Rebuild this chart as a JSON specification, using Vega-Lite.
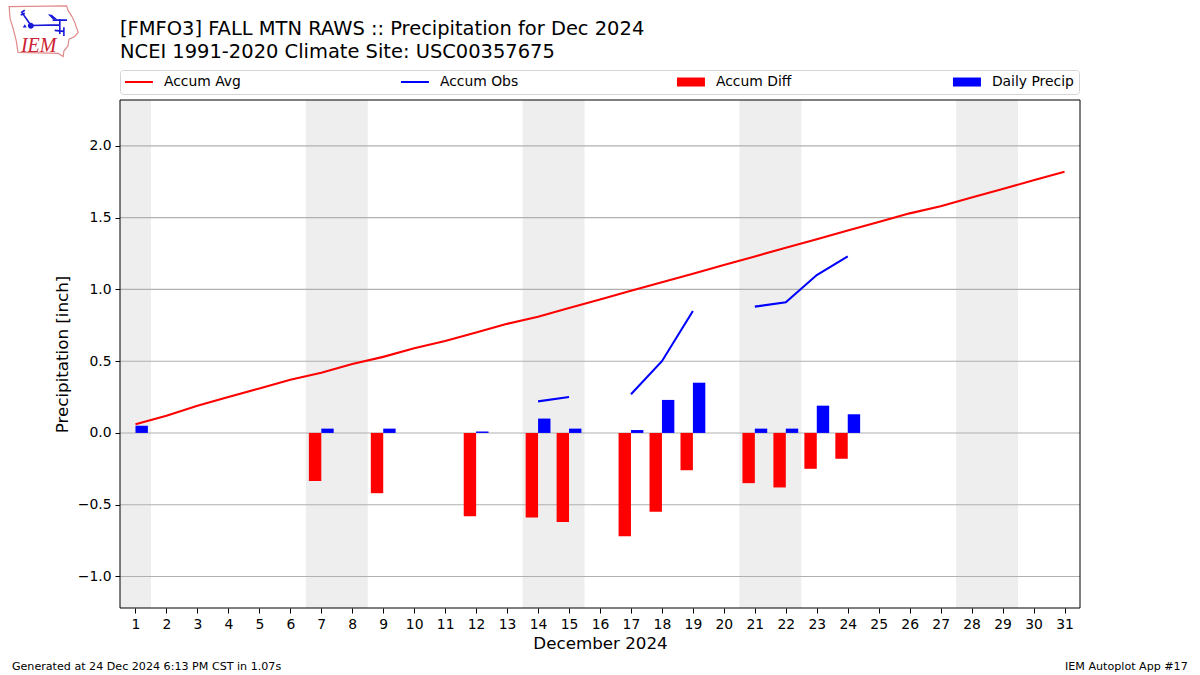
{"$schema":"https://vega.github.io/schema/vega-lite/v6.json","width":960,"height":508,"autosize":{"type":"none"},"padding":{"left":120,"top":100,"right":120,"bottom":67},"background":"white",
"title":{"text":["[FMFO3] FALL MTN RAWS :: Precipitation for Dec 2024","NCEI 1991-2020 Climate Site: USC00357675"],"anchor":"start","frame":"group","offset":0,"dy":59,"fontSize":19.47,"fontWeight":"normal","lineHeight":22.5,"color":"black","font":"DejaVu Sans"},
"config":{"font":"DejaVu Sans","view":{"stroke":null},"legend":{"labelFontSize":13.9,"labelFont":"DejaVu Sans","labelColor":"black","strokeColor":"#d4d4d4","cornerRadius":3,"fillColor":"white","padding":5,"columnPadding":154,"rowPadding":0,"labelOffset":18,"symbolOffset":7,"symbolSize":100,"symbolStrokeWidth":0,"symbolOpacity":1,"gridAlign":"all","labelLimit":200}},
"datasets":{
"series":[
{"day":1,"series":"Accum Avg","value":0.06},{"day":2,"series":"Accum Avg","value":0.12},{"day":3,"series":"Accum Avg","value":0.19},{"day":4,"series":"Accum Avg","value":0.25},{"day":5,"series":"Accum Avg","value":0.31},{"day":6,"series":"Accum Avg","value":0.37},{"day":7,"series":"Accum Avg","value":0.42},{"day":8,"series":"Accum Avg","value":0.48},{"day":9,"series":"Accum Avg","value":0.53},{"day":10,"series":"Accum Avg","value":0.59},{"day":11,"series":"Accum Avg","value":0.64},{"day":12,"series":"Accum Avg","value":0.70},{"day":13,"series":"Accum Avg","value":0.76},{"day":14,"series":"Accum Avg","value":0.81},{"day":15,"series":"Accum Avg","value":0.87},{"day":16,"series":"Accum Avg","value":0.93},{"day":17,"series":"Accum Avg","value":0.99},{"day":18,"series":"Accum Avg","value":1.05},{"day":19,"series":"Accum Avg","value":1.11},{"day":20,"series":"Accum Avg","value":1.17},{"day":21,"series":"Accum Avg","value":1.23},{"day":22,"series":"Accum Avg","value":1.29},{"day":23,"series":"Accum Avg","value":1.35},{"day":24,"series":"Accum Avg","value":1.41},{"day":25,"series":"Accum Avg","value":1.47},{"day":26,"series":"Accum Avg","value":1.53},{"day":27,"series":"Accum Avg","value":1.58},{"day":28,"series":"Accum Avg","value":1.64},{"day":29,"series":"Accum Avg","value":1.70},{"day":30,"series":"Accum Avg","value":1.76},{"day":31,"series":"Accum Avg","value":1.82},
{"day":14,"series":"Accum Obs","value":0.22},{"day":15,"series":"Accum Obs","value":0.25},{"day":16,"series":"Accum Obs","value":null},{"day":17,"series":"Accum Obs","value":0.27},{"day":18,"series":"Accum Obs","value":0.50},{"day":19,"series":"Accum Obs","value":0.85},{"day":20,"series":"Accum Obs","value":null},{"day":21,"series":"Accum Obs","value":0.88},{"day":22,"series":"Accum Obs","value":0.91},{"day":23,"series":"Accum Obs","value":1.10},{"day":24,"series":"Accum Obs","value":1.23},
{"day":7,"series":"Accum Diff","value":-0.335},{"day":9,"series":"Accum Diff","value":-0.42},{"day":12,"series":"Accum Diff","value":-0.58},{"day":14,"series":"Accum Diff","value":-0.59},{"day":15,"series":"Accum Diff","value":-0.62},{"day":17,"series":"Accum Diff","value":-0.72},{"day":18,"series":"Accum Diff","value":-0.55},{"day":19,"series":"Accum Diff","value":-0.26},{"day":21,"series":"Accum Diff","value":-0.35},{"day":22,"series":"Accum Diff","value":-0.38},{"day":23,"series":"Accum Diff","value":-0.25},{"day":24,"series":"Accum Diff","value":-0.18},
{"day":1,"series":"Daily Precip","value":0.05},{"day":7,"series":"Daily Precip","value":0.03},{"day":9,"series":"Daily Precip","value":0.03},{"day":12,"series":"Daily Precip","value":0.01},{"day":14,"series":"Daily Precip","value":0.10},{"day":15,"series":"Daily Precip","value":0.03},{"day":17,"series":"Daily Precip","value":0.02},{"day":18,"series":"Daily Precip","value":0.23},{"day":19,"series":"Daily Precip","value":0.35},{"day":21,"series":"Daily Precip","value":0.03},{"day":22,"series":"Daily Precip","value":0.03},{"day":23,"series":"Daily Precip","value":0.19},{"day":24,"series":"Daily Precip","value":0.13}],
"weekends":[{"day":0.5,"dayEnd":1.5,"value":-1.22,"top":2.32},{"day":6.5,"dayEnd":8.5,"value":-1.22,"top":2.32},{"day":13.5,"dayEnd":15.5,"value":-1.22,"top":2.32},{"day":20.5,"dayEnd":22.5,"value":-1.22,"top":2.32},{"day":27.5,"dayEnd":29.5,"value":-1.22,"top":2.32}],
"grid":[{"day":0.5,"dayEnd":31.5,"value":-1},{"day":0.5,"dayEnd":31.5,"value":-0.5},{"day":0.5,"dayEnd":31.5,"value":0},{"day":0.5,"dayEnd":31.5,"value":0.5},{"day":0.5,"dayEnd":31.5,"value":1},{"day":0.5,"dayEnd":31.5,"value":1.5},{"day":0.5,"dayEnd":31.5,"value":2}],
"frame":[{"day":0.5,"dayEnd":31.5,"value":-1.22,"top":2.32}],
"logoAnchor":[{"day":-1.96,"value":2.796}]},
"data":{"name":"series"},
"encoding":{
"x":{"field":"day","type":"quantitative","title":"December 2024","scale":{"domain":[0.5,31.5],"nice":false,"zero":false,"padding":0},"axis":{"values":[1,2,3,4,5,6,7,8,9,10,11,12,13,14,15,16,17,18,19,20,21,22,23,24,25,26,27,28,29,30,31],"format":"d","grid":false,"domain":false,"tickColor":"black","tickSize":5,"labelColor":"black","labelFontSize":13.9,"labelPadding":4,"labelFlush":false,"labelOverlap":false,"titleFontSize":16.7,"titleFontWeight":"normal","titleColor":"black","titlePadding":5}},
"y":{"field":"value","type":"quantitative","title":"Precipitation [inch]","scale":{"domain":[-1.22,2.32],"nice":false,"zero":false,"padding":0},"axis":{"values":[-1,-0.5,0,0.5,1,1.5,2],"format":".1f","grid":false,"domain":false,"tickColor":"black","tickSize":5,"labelColor":"black","labelFontSize":13.9,"labelPadding":4,"titleFontSize":16.7,"titleFontWeight":"normal","titleColor":"black","titlePadding":6}}},
"layer":[
{"data":{"name":"weekends"},"mark":{"type":"rect","color":"#eeeeee"},"encoding":{"x2":{"field":"dayEnd"},"y2":{"field":"top"}}},
{"data":{"name":"grid"},"mark":{"type":"rule","color":"#b0b0b0","strokeWidth":1.1},"encoding":{"x2":{"field":"dayEnd"}}},
{"transform":[{"filter":"datum.series === 'Accum Diff'"}],"mark":{"type":"bar","color":"#ff0000","size":12.4,"xOffset":-6.2,"orient":"vertical"},"encoding":{"y":{"field":"value","type":"quantitative","stack":null}}},
{"transform":[{"filter":"datum.series === 'Daily Precip'"}],"mark":{"type":"bar","color":"#0000ff","size":12.4,"xOffset":6.2,"orient":"vertical"},"encoding":{"y":{"field":"value","type":"quantitative","stack":null}}},
{"transform":[{"filter":"datum.series === 'Accum Avg'"}],"mark":{"type":"line","color":"#ff0000","strokeWidth":2.08}},
{"transform":[{"filter":"datum.series === 'Accum Obs'"}],"mark":{"type":"line","color":"#0000ff","strokeWidth":2.08}},
{"transform":[{"filter":"datum.series === 'legend only'"}],"mark":{"type":"point","filled":true,"opacity":1},"encoding":{
"color":{"field":"series","type":"nominal","scale":{"domain":["Accum Avg","Accum Obs","Accum Diff","Daily Precip"],"range":["#ff0000","#0000ff","#ff0000","#0000ff"]},"legend":{"title":null,"orient":"none","legendX":0,"legendY":-30,"columns":4}},
"shape":{"field":"series","type":"nominal","scale":{"domain":["Accum Avg","Accum Obs","Accum Diff","Daily Precip"],"range":["M-2.8,-0.2H2.8V0.2H-2.8Z","M-2.8,-0.2H2.8V0.2H-2.8Z","M-2.8,-0.9H2.8V0.9H-2.8Z","M-2.8,-0.9H2.8V0.9H-2.8Z"]},"legend":{"title":null,"orient":"none","legendX":0,"legendY":-30,"columns":4}}}},
{"data":{"name":"frame"},"mark":{"type":"rect","fill":null,"fillOpacity":0,"stroke":"black","strokeWidth":1},"encoding":{"x2":{"field":"dayEnd"},"y2":{"field":"top"}}},
{"data":{"name":"logoAnchor"},"mark":{"type":"point","shape":"M-1.02,-.74L.67,-.76L.72,-.61L.82,-.46L.91,-.27L1.01,.02L.91,.14L.74,.22L.71,.42L.59,.57L.57,.73L.42,.64L-.76,.61L-.81,.27L-.91,-.12L-.99,-.37Z","size":4624,"filled":false,"stroke":"#e08a8a","strokeWidth":1.2,"opacity":1,"clip":false}},
{"data":{"name":"logoAnchor"},"mark":{"type":"point","shape":"M-.38,-.18L.47,-.2M.47,-.37L.47,.07M.26,-.34L.68,-.34M-.38,-.19L-.65,-.57L-.56,-.63M-.68,-.49L-.56,-.54M.32,-.04L.59,-.01M.59,-.13L.59,.13","size":4624,"filled":false,"stroke":"#1818d8","strokeWidth":1.6,"opacity":1,"clip":false}},
{"data":{"name":"logoAnchor"},"mark":{"type":"point","shape":"M-.47,-.176a.088,.088 0 1,0 .176,0a.088,.088 0 1,0 -.176,0ZM.118,-.515L.235,-.5L.41,-.35L.265,-.365ZM-.56,-.22L-.5,-.12L-.62,-.12Z","size":4624,"filled":true,"color":"#1818d8","opacity":1,"clip":false}},
{"data":{"values":[{"day":-2.7,"value":2.657,"label":"IEM"}]},"mark":{"type":"text","align":"left","baseline":"alphabetic","font":"Liberation Serif","fontStyle":"italic","fontSize":20,"color":"#cc2233","clip":false},"encoding":{"text":{"field":"label"}}},
{"data":{"values":[{"day":-2.99,"value":-1.628,"label":"Generated at 24 Dec 2024 6:13 PM CST in 1.07s"}]},"mark":{"type":"text","align":"left","baseline":"middle","fontSize":11.12,"color":"black","clip":false},"encoding":{"text":{"field":"label"}}},
{"data":{"values":[{"day":34.98,"value":-1.628,"label":"IEM Autoplot App #17"}]},"mark":{"type":"text","align":"right","baseline":"middle","fontSize":11.12,"color":"black","clip":false},"encoding":{"text":{"field":"label"}}}
]}
